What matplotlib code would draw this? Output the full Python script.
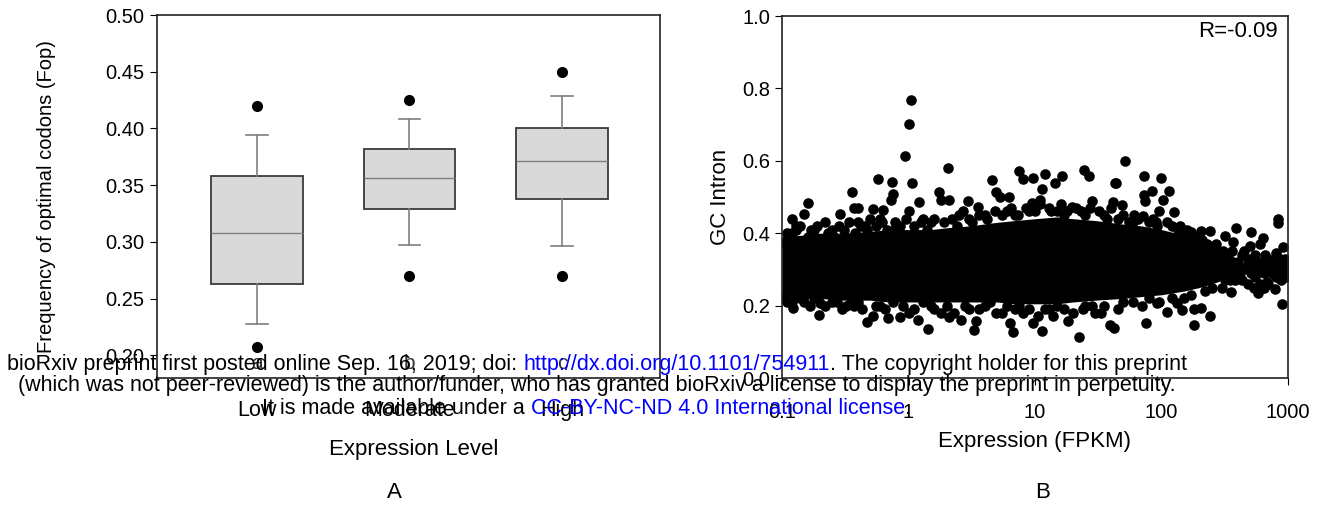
import matplotlib
matplotlib.use("Agg")
import matplotlib.pyplot as plt
from matplotlib.ticker import FixedLocator, FixedFormatter

plt.rcParams["font.family"] = ["Liberation Sans", "DejaVu Sans"]

# panel A: codon optimality by expression level
categories = ["Low", "Moderate", "High"]
sig_letters = ["a", "b", "c"]
q1 = [0.263, 0.329, 0.338]
med = [0.308, 0.356, 0.371]
q3 = [0.358, 0.382, 0.400]
whislo = [0.228, 0.297, 0.296]
whishi = [0.394, 0.408, 0.429]
fliers = [[0.420, 0.207], [0.425, 0.270], [0.450, 0.270]]

# panel B: intron GC vs expression (genes readable at the edges of the cloud)
expr_fpkm = [
    # high outliers
    1.04, 1.01, 0.93, 2.05, 0.57, 0.74, 1.06, 0.36, 0.76, 0.73, 1.75, 1.8, 0.16, 1.21,
    0.37, 0.40, 0.52, 1.01, 0.63, 0.15, 0.29, 0.12,
    7.5, 8.0, 9.6, 12.0, 16.3, 14.5, 24.4, 26.8, 42.6, 4.6, 11.4, 4.9, 6.2, 10.9, 2.95,
    28.3, 5.3, 2.1, 3.57, 9.5, 41, 19.5,
    51.8, 73.2, 99.6, 43.5, 84.6, 114, 72.5, 74, 102, 48.8, 96, 126, 60.8, 72, 828,
    # right tail
    838, 385, 507, 637, 318, 370, 500, 600, 906, 800, 206, 243, 170, 134, 92, 309, 993,
    800, 732, 685, 790, 581, 892, 354, 182, 240, 182, 76, 110, 144, 132, 92, 204, 42.5,
    280, 300, 350, 400, 420, 450, 480, 520, 550, 600, 650, 700, 750, 850, 900, 950, 700,
    260, 320, 380, 480, 260, 250, 450, 550, 620, 800, 950, 1000,
    220, 230, 270, 290, 330, 340, 360, 410, 430, 470, 510, 530, 570, 640, 660, 720, 770,
    860, 880, 980, 920, 600, 650, 540, 430, 300, 350,
    # low outliers
    0.123, 0.2, 0.197, 0.166, 0.32, 0.37, 0.47, 0.52, 0.69, 0.86, 1.18, 1.43, 1.8, 1.0,
    2.1, 2.6, 3.4, 3.3, 6.3, 6.7, 9.7, 11.4, 18.3, 22.4, 39.2, 4.9, 8, 30,
    # upper fringe of the cloud
    0.11, 0.13, 0.18, 0.22, 0.25, 0.4, 0.45, 0.6, 0.8, 1.3, 1.5, 2.5, 3, 4, 6, 7, 9, 13,
    15, 18, 25, 35, 45, 60, 80, 120, 160,
    0.105, 0.11, 0.12, 0.13, 0.14, 0.16, 0.17, 0.19, 0.21, 0.23, 0.26, 0.28, 0.31, 0.34,
    0.38, 0.42, 0.47, 0.5, 0.55, 0.62, 0.68, 0.78, 0.85, 0.95, 1.1, 1.25, 1.4, 1.6, 1.9,
    2.2, 2.4, 2.7, 3.2, 3.6, 4.2, 4.8, 5.5, 6.5, 7.3, 8.5, 10, 11, 13.5, 16, 17, 21, 23,
    27, 32, 37, 40, 50, 55, 65, 85, 90, 110, 140, 155, 180, 210, 230,
    # lower fringe of the cloud
    0.11, 0.14, 0.25, 0.4, 0.6, 1.5, 3, 4, 7, 12, 15, 25, 35, 60, 80, 150,
    0.105, 0.12, 0.15, 0.18, 0.22, 0.27, 0.3, 0.35, 0.43, 0.55, 0.65, 0.75, 0.9, 1.1, 1.3,
    1.6, 2.0, 2.3, 2.8, 3.6, 4.4, 5.5, 6.0, 7.5, 9, 10.5, 13, 14, 17, 20, 24, 28, 33, 45,
    50, 70, 95, 120, 170, 220,
]
gc_intron = [
    0.769, 0.702, 0.613, 0.581, 0.550, 0.542, 0.539, 0.514, 0.508, 0.493, 0.515, 0.492,
    0.483, 0.486, 0.469, 0.470, 0.467, 0.460, 0.465, 0.453, 0.453, 0.440,
    0.572, 0.551, 0.553, 0.563, 0.559, 0.539, 0.574, 0.558, 0.540, 0.546, 0.521, 0.515,
    0.499, 0.493, 0.490, 0.490, 0.500, 0.492, 0.471, 0.483, 0.486, 0.471,
    0.600, 0.559, 0.553, 0.540, 0.517, 0.516, 0.506, 0.490, 0.493, 0.478, 0.462, 0.459,
    0.451, 0.448, 0.438,
    0.427, 0.413, 0.404, 0.388, 0.391, 0.377, 0.365, 0.370, 0.361, 0.346, 0.407, 0.407,
    0.402, 0.410, 0.420, 0.352, 0.306, 0.306, 0.317, 0.266, 0.247, 0.235, 0.205, 0.238,
    0.190, 0.172, 0.146, 0.153, 0.181, 0.187, 0.208, 0.206, 0.193, 0.137,
    0.33, 0.30, 0.31, 0.32, 0.29, 0.30, 0.33, 0.31, 0.28, 0.30, 0.29, 0.33, 0.29, 0.30,
    0.32, 0.28, 0.26, 0.28, 0.27, 0.27, 0.26, 0.36, 0.25, 0.35, 0.34, 0.32, 0.28, 0.33,
    0.31,
    0.35, 0.30, 0.37, 0.32, 0.34, 0.29, 0.35, 0.30, 0.34, 0.31, 0.29, 0.33, 0.31, 0.31,
    0.34, 0.30, 0.32, 0.33, 0.27, 0.30, 0.29, 0.26, 0.25, 0.25, 0.27, 0.25, 0.27,
    0.193, 0.206, 0.174, 0.200, 0.200, 0.200, 0.154, 0.172, 0.165, 0.169, 0.160, 0.135,
    0.179, 0.180, 0.169, 0.160, 0.157, 0.133, 0.153, 0.128, 0.151, 0.131, 0.157, 0.113,
    0.146, 0.180, 0.180, 0.180,
    0.40, 0.42, 0.41, 0.43, 0.41, 0.43, 0.42, 0.44, 0.42, 0.44, 0.43, 0.45, 0.44, 0.45,
    0.46, 0.45, 0.46, 0.47, 0.46, 0.46, 0.45, 0.45, 0.44, 0.43, 0.43, 0.42, 0.41,
    0.37, 0.38, 0.40, 0.41, 0.42, 0.39, 0.41, 0.42, 0.38, 0.40, 0.39, 0.42, 0.41, 0.43,
    0.40, 0.42, 0.41, 0.44, 0.42, 0.43, 0.41, 0.43, 0.42, 0.44, 0.42, 0.43, 0.41, 0.44,
    0.43, 0.44, 0.42, 0.46, 0.43, 0.45, 0.44, 0.46, 0.45, 0.47, 0.45, 0.47, 0.46, 0.48,
    0.46, 0.48, 0.45, 0.47, 0.46, 0.47, 0.46, 0.44, 0.47, 0.45, 0.43, 0.44, 0.44, 0.43,
    0.43, 0.42, 0.40, 0.39, 0.38, 0.37,
    0.21, 0.22, 0.21, 0.21, 0.20, 0.20, 0.19, 0.20, 0.19, 0.19, 0.20, 0.20, 0.20, 0.21,
    0.22, 0.22,
    0.22, 0.21, 0.21, 0.22, 0.20, 0.21, 0.19, 0.21, 0.19, 0.20, 0.19, 0.21, 0.20, 0.19,
    0.21, 0.19, 0.20, 0.18, 0.20, 0.19, 0.21, 0.18, 0.20, 0.20, 0.19, 0.17, 0.19, 0.17,
    0.19, 0.18, 0.19, 0.20, 0.18, 0.19, 0.21, 0.20, 0.21, 0.22, 0.23, 0.24,
]
# solid core of the cloud, where single genes can't be told apart
core_x = [0.1, 0.15, 0.2, 0.3, 0.5, 0.7, 1, 1.5, 2, 3, 5, 7, 10, 15, 20, 30, 50, 70,
          100, 150, 200, 250, 300, 400]
core_hi = [0.39, 0.395, 0.40, 0.40, 0.405, 0.41, 0.41, 0.41, 0.415, 0.42, 0.43, 0.435,
           0.44, 0.445, 0.44, 0.435, 0.425, 0.42, 0.41, 0.395, 0.38, 0.365, 0.35, 0.33]
core_lo = [0.225, 0.22, 0.22, 0.215, 0.215, 0.21, 0.21, 0.21, 0.21, 0.21, 0.21, 0.205,
           0.205, 0.205, 0.21, 0.215, 0.22, 0.225, 0.23, 0.24, 0.25, 0.26, 0.27, 0.28]
r_value = -0.09

tick_fs = 14.5
lab_fs = 16
stamp_fs = 15.5
fig = plt.figure(figsize=(13.25, 5.08), dpi=100)
W, H = 1325, 508

# ---- panel A ----
axA = fig.add_axes([157 / W, 1 - 378 / H, 503 / W, 363 / H])
stats = []
for i in range(len(categories)):
    stats.append(dict(label=categories[i], q1=q1[i], med=med[i], q3=q3[i],
                      whislo=whislo[i], whishi=whishi[i], fliers=fliers[i]))
axA.bxp(stats, positions=[1, 2, 3], widths=0.6, patch_artist=True, capwidths=0.14,
        boxprops=dict(facecolor="#d9d9d9", edgecolor="#3a3a3a", linewidth=1.3),
        medianprops=dict(color="#7f7f7f", linewidth=1.0),
        whiskerprops=dict(color="#7f7f7f", linewidth=1.2),
        capprops=dict(color="#7f7f7f", linewidth=1.2),
        flierprops=dict(marker="o", markerfacecolor="black", markeredgecolor="black",
                        markersize=7))
for i, let in enumerate(sig_letters):
    axA.text(i + 1, 0.193, let, ha="center", va="center", fontsize=15, color="#333333")
axA.set_xlim(0.344, 3.643)
axA.set_ylim(0.18, 0.50)
axA.yaxis.set_major_locator(FixedLocator([0.20, 0.25, 0.30, 0.35, 0.40, 0.45, 0.50]))
axA.yaxis.set_major_formatter(FixedFormatter(["0.20", "0.25", "0.30", "0.35", "0.40", "0.45", "0.50"]))
axA.tick_params(axis="y", direction="out", length=5, labelsize=tick_fs, pad=4)
axA.tick_params(axis="x", length=0, labelsize=15.5, pad=16)
axA.set_ylabel("Frequency of optimal codons (Fop)", fontsize=14.5)
axA.yaxis.set_label_coords(-101 / 503, 0.5)
axA.set_xlabel("Expression Level", fontsize=lab_fs)
axA.xaxis.set_label_coords((414 - 157) / 503, -(439 - 378) / 363)

# ---- panel B ----
axB = fig.add_axes([782 / W, 1 - 378 / H, 506 / W, 362 / H])
axB.fill_between(core_x, core_lo, core_hi, color="black", linewidth=0)
axB.scatter(expr_fpkm, gc_intron, s=58, color="black", linewidths=0)
axB.set_xscale("log")
axB.set_xlim(0.1, 1000)
axB.set_ylim(0, 1.0)
axB.xaxis.set_major_locator(FixedLocator([0.1, 1, 10, 100, 1000]))
axB.xaxis.set_major_formatter(FixedFormatter(["0.1", "1", "10", "100", "1000"]))
axB.xaxis.set_minor_locator(FixedLocator([]))
axB.yaxis.set_major_locator(FixedLocator([0, 0.2, 0.4, 0.6, 0.8, 1.0]))
axB.yaxis.set_major_formatter(FixedFormatter(["0.0", "0.2", "0.4", "0.6", "0.8", "1.0"]))
axB.tick_params(direction="out", length=5, labelsize=tick_fs)
axB.tick_params(axis="x", pad=13)
axB.set_ylabel("GC Intron", fontsize=lab_fs)
axB.yaxis.set_label_coords(-51 / 506, 0.5)
axB.set_xlabel("Expression (FPKM)", fontsize=lab_fs)
axB.xaxis.set_label_coords(0.5, -(431 - 378) / 362)
axB.text(0.98, 0.958, f"R={r_value}", transform=axB.transAxes, ha="right",
         va="center", fontsize=lab_fs)

for ax in (axA, axB):
    for sp in ax.spines.values():
        sp.set_linewidth(1.2)
        sp.set_color("#222222")

fig.text(394 / W, 1 - 492 / H, "A", ha="center", va="center", fontsize=lab_fs)
fig.text(1043 / W, 1 - 492 / H, "B", ha="center", va="center", fontsize=lab_fs)

# ---- bioRxiv stamp, pieces in black and blue ----
renderer = fig.canvas.get_renderer()


def text_width(s):
    t = fig.text(0, 0, s + "|", fontsize=stamp_fs)
    bar = fig.text(0, 0, "|", fontsize=stamp_fs)
    w = t.get_window_extent(renderer).width - bar.get_window_extent(renderer).width
    t.remove()
    bar.remove()
    return w


def stamp_line(x0, y, pieces):
    x = x0
    for s, col in pieces:
        fig.text(x / W, 1 - y / H, s, fontsize=stamp_fs, color=col, va="baseline", ha="left")
        x += text_width(s)


blue = "#0000ff"
stamp_line(7, 370, [("bioRxiv preprint first posted online Sep. 16, 2019; doi: ", "black"),
                    ("http://dx.doi.org/10.1101/754911", blue),
                    (". The copyright holder for this preprint", "black")])
stamp_line(18, 391, [("(which was not peer-reviewed) is the author/funder, who has granted "
                      "bioRxiv a license to display the preprint in perpetuity.", "black")])
stamp_line(262, 414, [("It is made available under a ", "black"),
                      ("CC-BY-NC-ND 4.0 International license", blue),
                      (".", "black")])

fig.savefig("out.png", dpi=100)
